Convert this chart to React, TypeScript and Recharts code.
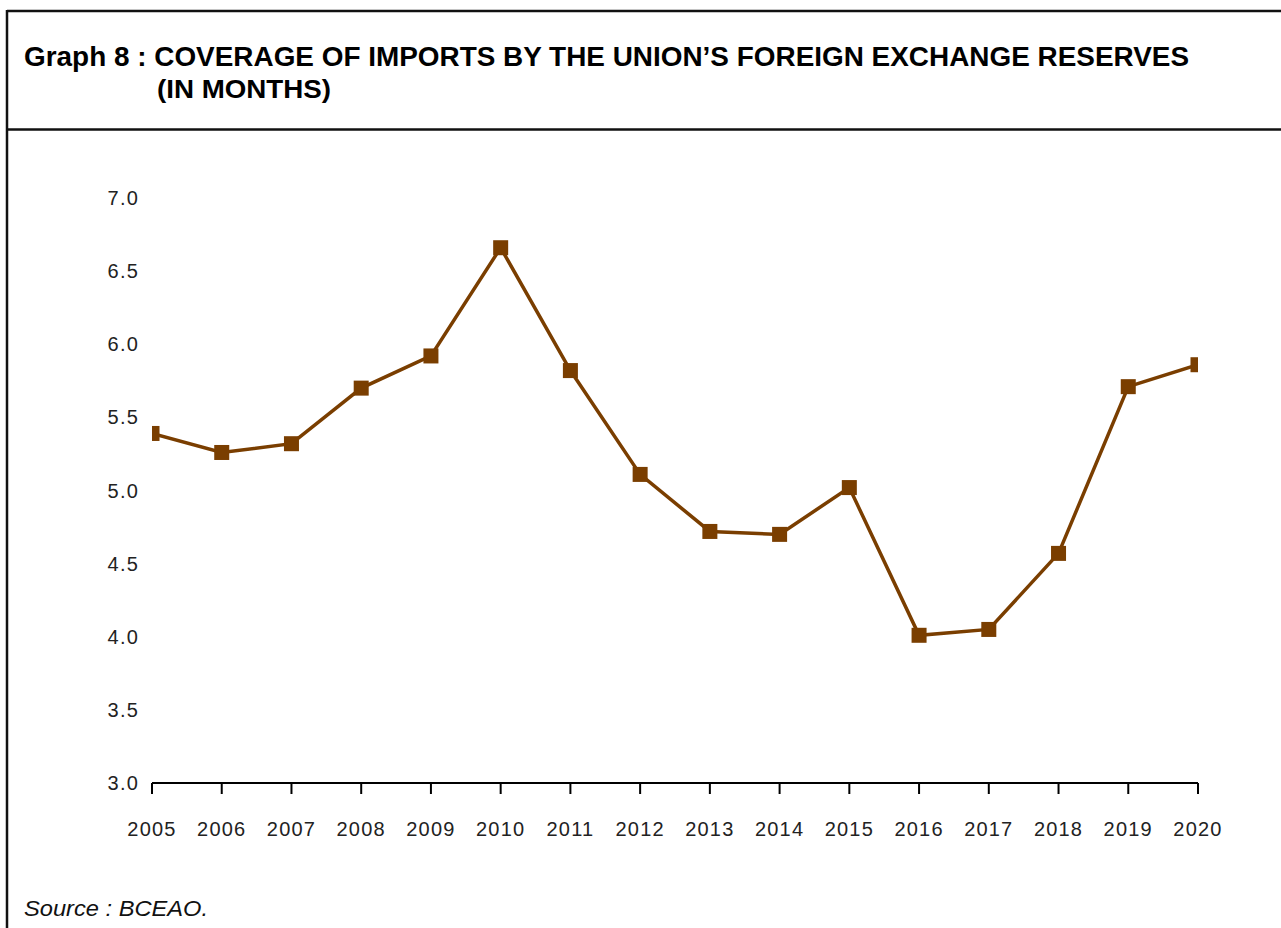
import React from 'react';
import { LineChart, Line, XAxis, YAxis } from 'recharts';

const YEARS = ['2005', '2006', '2007', '2008', '2009', '2010', '2011', '2012', '2013', '2014', '2015', '2016', '2017', '2018', '2019', '2020'];
const COVERAGE = [5.39, 5.26, 5.32, 5.7, 5.92, 6.66, 5.82, 5.11, 4.72, 4.7, 5.02, 4.01, 4.05, 4.57, 5.71, 5.86];
const Y_TICKS = [3.0, 3.5, 4.0, 4.5, 5.0, 5.5, 6.0, 6.5, 7.0];

const TITLE_1 = 'Graph 8 : COVERAGE OF IMPORTS BY THE UNION\u2019S FOREIGN EXCHANGE RESERVES';
const TITLE_2 = '(IN MONTHS)';
const SOURCE = 'Source : BCEAO.';

const BROWN = '#7a3e00';
const FONT = '"Liberation Sans", Arial, sans-serif';

const data = YEARS.map((year, i) => ({ year, value: COVERAGE[i] }));

const SquareDot = (props: any) => {
  const { cx, cy, index } = props;
  if (cx == null || cy == null) return null;
  const s = 15;
  return <rect key={`dot-${index}`} x={cx - s / 2} y={cy - s / 2} width={s} height={s} fill={BROWN} />;
};

const tickStyle = { fill: '#222', fontSize: 20, fontFamily: FONT, letterSpacing: 1.2 };

const App: React.FC = () => {
  return (
    <div style={{ position: 'absolute', left: 0, top: 0, width: 1281, height: 928, background: '#fff' }}>
      <LineChart
        width={1281}
        height={928}
        data={data}
        margin={{ top: 198, right: 83, bottom: 0, left: 92 }}
      >
        <XAxis
          dataKey="year"
          type="category"
          scale="point"
          allowDataOverflow
          padding={{ left: 0, right: 0 }}
          axisLine={{ stroke: '#000', strokeWidth: 2 }}
          tickLine={{ stroke: '#000', strokeWidth: 2 }}
          tickSize={11}
          tickMargin={28}
          fontSize={20}
          tick={tickStyle}
          interval={0}
          height={145}
        />
        <YAxis
          type="number"
          domain={[3, 7]}
          ticks={Y_TICKS}
          allowDataOverflow
          width={60}
          axisLine={false}
          tickLine={false}
          tickSize={0}
          tickMargin={13}
          fontSize={20}
          tickFormatter={(v: number) => v.toFixed(1)}
          tick={tickStyle}
        />
        <Line
          type="linear"
          dataKey="value"
          stroke={BROWN}
          strokeWidth={3.5}
          dot={SquareDot}
          activeDot={false}
          isAnimationActive={false}
        />
      </LineChart>
      <svg
        width={1281}
        height={928}
        style={{ position: 'absolute', left: 0, top: 0, pointerEvents: 'none' }}
      >
        <line x1={7} y1={11} x2={1281} y2={11} stroke="#111" strokeWidth={2.5} />
        <line x1={7} y1={10} x2={7} y2={928} stroke="#111" strokeWidth={2.5} />
        <line x1={7} y1={129.5} x2={1281} y2={129.5} stroke="#111" strokeWidth={2.5} />
        <text x={24} y={66} fontFamily={FONT} fontWeight="bold" fontSize={27} fill="#000" textLength={1165} lengthAdjust="spacingAndGlyphs">
          {TITLE_1}
        </text>
        <text x={157} y={98} fontFamily={FONT} fontWeight="bold" fontSize={26} fill="#000" textLength={174} lengthAdjust="spacingAndGlyphs">
          {TITLE_2}
        </text>
        <text x={24} y={916} fontFamily={FONT} fontStyle="italic" fontSize={22} fill="#111" textLength={184} lengthAdjust="spacingAndGlyphs">
          {SOURCE}
        </text>
      </svg>
    </div>
  );
};

export default App;
